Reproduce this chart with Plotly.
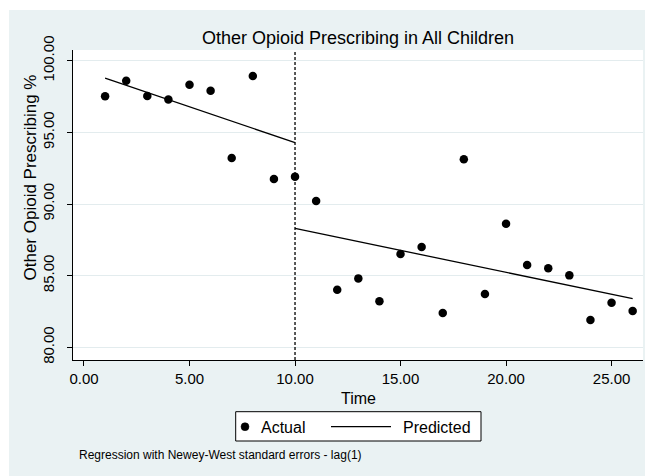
import plotly.graph_objects as go

# ---- data ----
time = list(range(1, 27))
actual = [97.52, 98.60, 97.54, 97.30, 98.33, 97.91, 93.21, 98.93, 91.74, 91.91,
          90.21, 84.02, 84.81, 83.21, 86.51, 87.00, 82.39, 93.12, 83.72, 88.63,
          85.74, 85.51, 85.02, 81.90, 83.11, 82.53]
pred_pre_time = [1, 10]
pred_pre = [98.79, 94.28]
pred_post_time = [10, 26]
pred_post = [88.30, 83.39]
x_ticks = [0, 5, 10, 15, 20, 25]
y_ticks = [80, 85, 90, 95, 100]
intervention = 10

W, H = 645, 476
L, R, T, B = 73, 2, 50, 116
PW, PH = W - L - R, H - T - B

def px(x):
    return (x - L) / PW

def py(y):
    return (T + PH - y) / PH

BG = "#EAF2F3"
GRID = "#E3ECEE"
FONT = "Liberation Sans, Arial, Helvetica, sans-serif"

fig = go.Figure()
fig.add_trace(go.Scatter(x=time, y=actual, mode="markers", name="Actual",
                         marker=dict(color="black", size=8.5), showlegend=False))
fig.add_trace(go.Scatter(x=pred_pre_time, y=pred_pre, mode="lines", name="Predicted",
                         line=dict(color="black", width=1.3), showlegend=False))
fig.add_trace(go.Scatter(x=pred_post_time, y=pred_post, mode="lines", name="Predicted",
                         line=dict(color="black", width=1.3), showlegend=False))

shapes = [
    # white margins outside the graph region (top and left strips)
    dict(type="rect", xref="paper", yref="paper", x0=px(-5), x1=px(W + 5),
         y0=py(10), y1=py(-5), fillcolor="white", line=dict(width=0), layer="above"),
    dict(type="rect", xref="paper", yref="paper", x0=px(-5), x1=px(9),
         y0=py(H + 5), y1=py(-5), fillcolor="white", line=dict(width=0), layer="above"),
    # intervention line
    dict(type="line", xref="x", yref="paper", x0=intervention, x1=intervention,
         y0=0, y1=1, line=dict(color="black", width=1.3, dash="3px,2px")),
    # legend box
    dict(type="rect", xref="paper", yref="paper", x0=px(235.7), x1=px(481),
         y0=py(441), y1=py(411.7), fillcolor="white", line=dict(color="black", width=1)),
    dict(type="circle", xref="paper", yref="paper", x0=px(241), x1=px(249),
         y0=py(430.7), y1=py(422.7), fillcolor="black", line=dict(color="black", width=0.5)),
    dict(type="line", xref="paper", yref="paper", x0=px(331), x1=px(391),
         y0=py(426.7), y1=py(426.7), line=dict(color="black", width=1.3)),
]

annotations = [
    dict(text="Actual", xref="paper", yref="paper", x=px(259), y=py(427),
         xanchor="left", yanchor="middle", showarrow=False,
         font=dict(size=16, color="black", family=FONT)),
    dict(text="Predicted", xref="paper", yref="paper", x=px(401), y=py(427),
         xanchor="left", yanchor="middle", showarrow=False,
         font=dict(size=16, color="black", family=FONT)),
    dict(text="Regression with Newey-West standard errors - lag(1)", xref="paper",
         yref="paper", x=px(77), y=py(455), xanchor="left", yanchor="middle",
         showarrow=False, font=dict(size=12, color="black", family=FONT)),
    dict(text="Other Opioid Prescribing %", xref="paper", yref="paper", x=px(30),
         y=py(177.5), xanchor="center", yanchor="middle", textangle=-90,
         showarrow=False, font=dict(size=17, color="black", family=FONT)),
    dict(text="Time", xref="paper", yref="paper", x=0.5, y=py(398),
         xanchor="center", yanchor="middle", showarrow=False,
         font=dict(size=16, color="black", family=FONT)),
]

fig.update_layout(
    width=W, height=H,
    margin=dict(l=L, r=R, t=T, b=B, pad=0),
    paper_bgcolor=BG,
    plot_bgcolor="white",
    font=dict(family=FONT, color="black", size=15),
    title=dict(text="Other Opioid Prescribing in All Children", x=(L + PW / 2) / W,
               xanchor="center", y=1 - 37.5 / H, yanchor="middle", yref="container",
               font=dict(size=18, color="black", family=FONT)),
    shapes=shapes,
    annotations=annotations,
    showlegend=False,
    xaxis=dict(range=[-0.521, 26.49], tickvals=x_ticks,
               ticktext=[f"{v:.2f}" for v in x_ticks],
               showgrid=False, zeroline=False, showline=True, linecolor="black",
               linewidth=1, ticks="outside", ticklen=5, tickcolor="black",
               tickfont=dict(size=15, color="black")),
    yaxis=dict(range=[79.114, 100.747], tickvals=y_ticks,
               ticktext=[f"{v:.2f}" for v in y_ticks], tickangle=-90,
               ticklabelstandoff=7,
               showgrid=True, gridcolor=GRID, gridwidth=1, zeroline=False,
               showline=True, linecolor="black", linewidth=1, ticks="outside",
               ticklen=5, tickcolor="black", tickfont=dict(size=15, color="black")),
)

fig.write_html("out.html")
